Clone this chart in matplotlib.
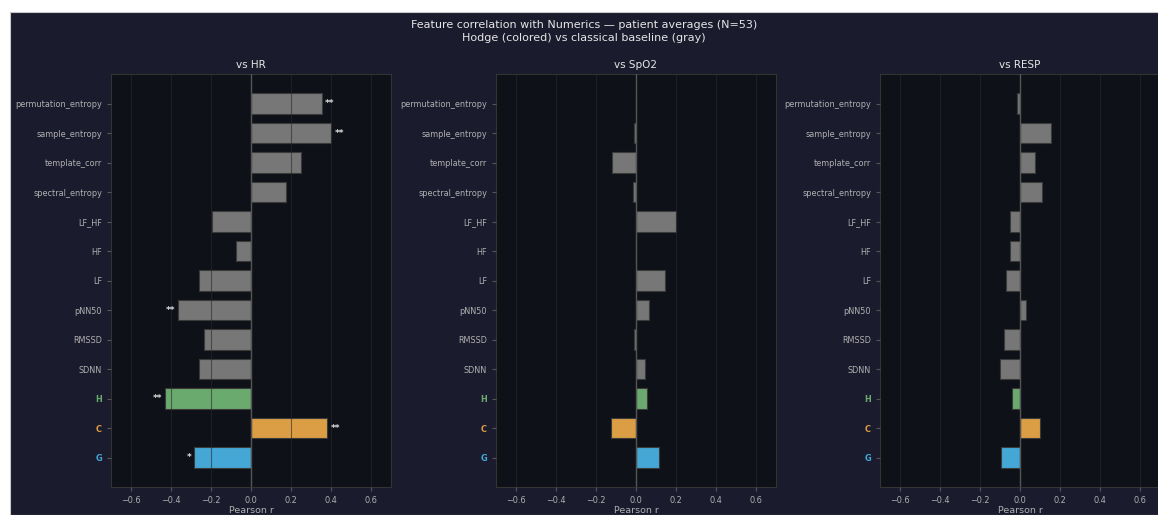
import matplotlib
matplotlib.use("Agg")
import matplotlib.pyplot as plt
from matplotlib.patches import Rectangle

features = ['permutation_entropy', 'sample_entropy', 'template_corr', 'spectral_entropy',
            'LF_HF', 'HF', 'LF', 'pNN50', 'RMSSD', 'SDNN', 'H', 'C', 'G']
targets = ['HR', 'SpO2', 'RESP']

r_hr = [0.354, 0.402, 0.248, 0.174, -0.193, -0.074, -0.258, -0.364, -0.233, -0.261, -0.431, 0.382, -0.283]
r_spo2 = [0.0, -0.010, -0.118, -0.014, 0.200, 0.0, 0.147, 0.067, -0.010, 0.043, 0.057, -0.126, 0.113]
r_resp = [-0.015, 0.155, 0.076, 0.109, -0.050, -0.052, -0.071, 0.032, -0.079, -0.098, -0.038, 0.099, -0.096]

stars_hr = ['**', '**', '', '', '', '', '', '**', '', '', '**', '**', '*']
stars_spo2 = [''] * 13
stars_resp = [''] * 13

hodge_colors = {'H': '#6baa6f', 'C': '#dc9e44', 'G': '#44a7d6'}
gray = '#777777'

BG = '#1b1b2e'
AX_BG = '#0e1117'
TXT = '#b0b0b0'

fig = plt.figure(figsize=(11.58, 5.15), dpi=100, facecolor='white')
fig.patches.append(Rectangle((10 / 1158, 0), 1.0, (515 - 12) / 515, transform=fig.transFigure,
                             facecolor=BG, edgecolor='#c8c8c8', linewidth=0.8, zorder=-10))

lefts = [111, 496, 880]
all_r = [r_hr, r_spo2, r_resp]
all_stars = [stars_hr, stars_spo2, stars_resp]

for left, tgt, vals, stars in zip(lefts, targets, all_r, all_stars):
    ax = fig.add_axes([left / 1158, 28 / 515, 280 / 1158, 413 / 515])
    ax.set_facecolor(AX_BG)
    ypos = list(range(len(features)))
    cols = [hodge_colors.get(f, gray) for f in features]
    ax.barh(ypos, vals, height=0.7, color=cols, edgecolor='#3a3a3a', linewidth=0.8, zorder=2)
    ax.axvline(0, color='#555555', linewidth=1, zorder=3)
    # significance markers next to the bar ends
    for y, v, s in zip(ypos, vals, stars):
        if s:
            off = 0.015 if v >= 0 else -0.015
            ax.text(v + off, y, s, color='#e0e0e0', fontsize=6.5, fontweight='bold',
                    ha='left' if v >= 0 else 'right', va='center', zorder=4)
    ax.set_xlim(-0.7, 0.7)
    ax.set_ylim(len(features) - 0.0, -1.0)
    ax.set_yticks(ypos)
    ax.set_yticklabels(features)
    ax.set_xticks([-0.6, -0.4, -0.2, 0.0, 0.2, 0.4, 0.6])
    ax.grid(axis='x', color='#2a2a2a', alpha=0.6, linewidth=0.8, zorder=3)
    ax.set_axisbelow(False)
    ax.tick_params(colors='#555555', labelcolor=TXT, labelsize=5.9, length=3)
    for lab in ax.get_yticklabels():
        if lab.get_text() in hodge_colors:
            lab.set_color(hodge_colors[lab.get_text()])
            lab.set_fontweight('bold')
    for sp in ax.spines.values():
        sp.set_color('#333333')
    ax.set_xlabel('Pearson r', color=TXT, fontsize=6.8, labelpad=1)
    ax.set_title('vs ' + tgt, color='#e6e6e6', fontsize=7.5, pad=4)

fig.text(0.5 + 5 / 1158, 1 - 31.5 / 515, 'Feature correlation with Numerics \u2014 patient averages (N=53)\n'
         'Hodge (colored) vs classical baseline (gray)', color='#e6e6e6', fontsize=8,
         ha='center', va='center', linespacing=1.3)

fig.savefig('out.png', dpi=100, facecolor=fig.get_facecolor())
